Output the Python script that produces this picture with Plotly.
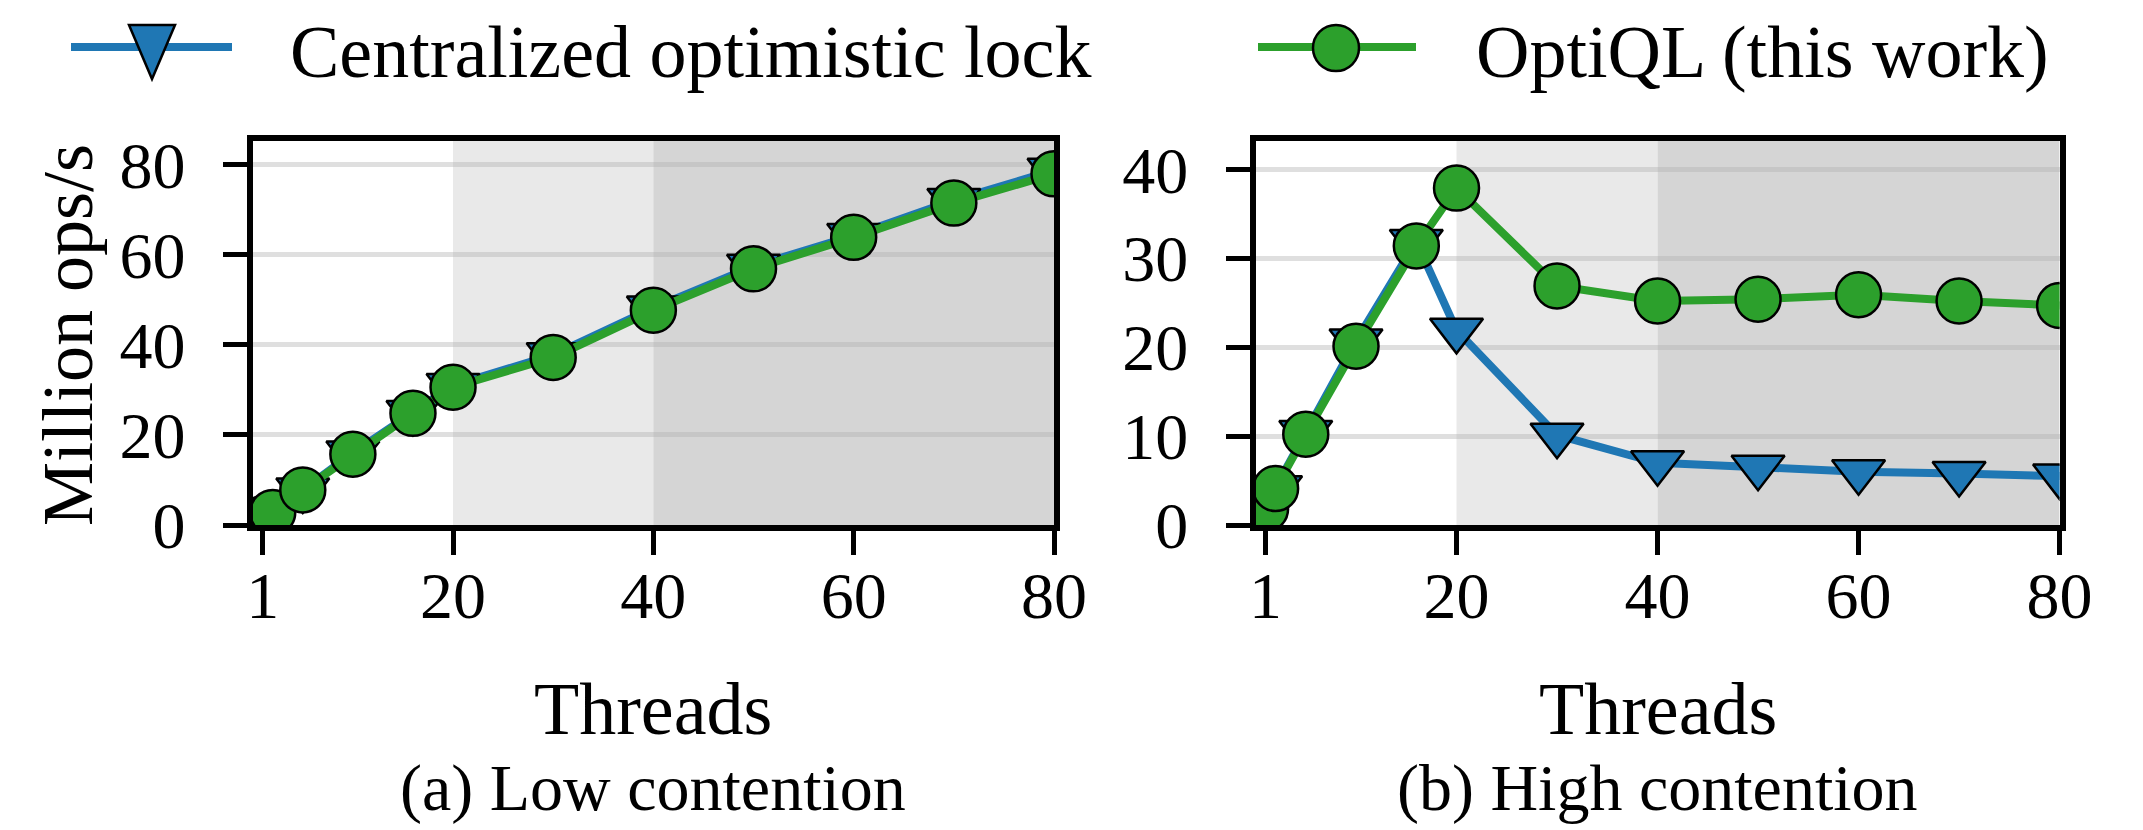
import plotly.graph_objects as go

# ---------------- data ----------------
threads = [1, 2, 5, 10, 16, 20, 30, 40, 50, 60, 70, 80]
low_centralized = [1.5, 3.0, 7.8, 16.0, 25.0, 31.0, 37.8, 48.2, 57.5, 64.3, 72.1, 78.8]
low_optiql = [1.4, 2.8, 7.8, 15.7, 24.8, 30.6, 37.2, 47.7, 56.9, 63.9, 71.5, 78.0]
high_centralized = [1.8, 4.2, 10.4, 20.7, 31.9, 21.9, 10.1, 7.0, 6.5, 6.0, 5.8, 5.5]
high_optiql = [1.8, 4.1, 10.2, 20.1, 31.4, 37.9, 26.9, 25.2, 25.4, 25.9, 25.2, 24.7]

x_tickvals = [1, 20, 40, 60, 80]
low_yticks = [0, 20, 40, 60, 80]
high_yticks = [0, 10, 20, 30, 40]
series_names = ["Centralized optimistic lock", "OptiQL (this work)"]
captions = ["(a) Low contention", "(b) High contention"]
x_title = "Threads"
y_title = "Million ops/s"
light_band = (20, 40)
dark_band = (40, 80)

# ---------------- style ----------------
W, H = 2143, 830
FONT = "Liberation Serif"
FS = 66
FS_BIG = 74
BLUE = "#1f77b4"
GREEN = "#2ca02c"


def px(v):
    return v / W


def py(v):
    return 1 - v / H


fig = go.Figure()

panels = [
    ("x", "y", low_centralized, low_optiql),
    ("x2", "y2", high_centralized, high_optiql),
]
for xa, ya, cen, opt in panels:
    fig.add_trace(go.Scatter(
        x=threads, y=cen, xaxis=xa, yaxis=ya, mode="lines+markers",
        name=series_names[0], showlegend=False,
        line=dict(color=BLUE, width=8),
        marker=dict(symbol="triangle-down", size=46, color=BLUE,
                    line=dict(color="black", width=2.5)),
    ))
    fig.add_trace(go.Scatter(
        x=threads, y=opt, xaxis=xa, yaxis=ya, mode="lines+markers",
        name=series_names[1], showlegend=False,
        line=dict(color=GREEN, width=8),
        marker=dict(symbol="circle", size=45, color=GREEN,
                    line=dict(color="black", width=2.5)),
    ))

y_dom = [py(525), py(141)]
axis_common = dict(
    showline=True, linecolor="black", linewidth=6, mirror=True,
    ticks="outside", ticklen=24, tickwidth=5, tickcolor="black",
    tickfont=dict(family=FONT, size=FS, color="black"),
    zeroline=False, automargin=False,
)
grid = dict(showgrid=True, gridcolor="rgba(176,176,176,0.4)", gridwidth=5)
fig.update_layout(
    width=W, height=H,
    margin=dict(l=0, r=0, t=0, b=0, pad=0, autoexpand=False),
    paper_bgcolor="white", plot_bgcolor="white",
    showlegend=False,
    xaxis=dict(domain=[px(252.7), px(1054)], range=[0, 80], anchor="y",
               tickvals=x_tickvals, showgrid=False, ticklabelstandoff=-16, **axis_common),
    yaxis=dict(domain=y_dom, range=[0, 85.3], anchor="x", tickvals=low_yticks,
               ticklabelstandoff=24, **grid, **axis_common),
    xaxis2=dict(domain=[px(1255.5), px(2059.6)], range=[0, 80], anchor="y2",
                tickvals=x_tickvals, showgrid=False, ticklabelstandoff=-16, **axis_common),
    yaxis2=dict(domain=y_dom, range=[0, 43.2], anchor="x2", tickvals=high_yticks,
                ticklabelstandoff=24, **grid, **axis_common),
)

shapes = []
for xr, yr in [("x", "y domain"), ("x2", "y2 domain")]:
    shapes.append(dict(type="rect", xref=xr, yref=yr, x0=light_band[0], x1=light_band[1],
                       y0=0, y1=1, fillcolor="#e9e9e9", line=dict(width=0), layer="below"))
    shapes.append(dict(type="rect", xref=xr, yref=yr, x0=dark_band[0], x1=dark_band[1],
                       y0=0, y1=1, fillcolor="#d5d5d5", line=dict(width=0), layer="below"))

# custom legend glyphs (paper coordinates)
shapes.append(dict(type="line", xref="paper", yref="paper", x0=px(71), x1=px(232),
                   y0=py(47), y1=py(47), line=dict(color=BLUE, width=8)))
shapes.append(dict(type="path", xref="paper", yref="paper",
                   path=f"M {px(129)} {py(25)} L {px(175)} {py(25)} L {px(152)} {py(79)} Z",
                   fillcolor=BLUE, line=dict(color="black", width=2.5)))
shapes.append(dict(type="line", xref="paper", yref="paper", x0=px(1258), x1=px(1416),
                   y0=py(47), y1=py(47), line=dict(color=GREEN, width=8)))
shapes.append(dict(type="circle", xref="paper", yref="paper",
                   x0=px(1313), x1=px(1359), y0=py(71), y1=py(25),
                   fillcolor=GREEN, line=dict(color="black", width=2.5)))
fig.update_layout(shapes=shapes)

tfont = dict(family=FONT, size=FS, color="black")
bfont = dict(family=FONT, size=FS_BIG, color="black")
ann = [
    dict(text=series_names[0], x=px(288), y=py(52), xanchor="left", yanchor="middle", font=bfont),
    dict(text=series_names[1], x=px(1474), y=py(52), xanchor="left", yanchor="middle", font=bfont),
    dict(text=y_title, x=px(68), y=py(335), textangle=-90, xanchor="center", yanchor="middle",
         font=dict(family=FONT, size=72, color="black")),
]
for cx, cap in [((252.7 + 1054) / 2, captions[0]), ((1255.5 + 2059.6) / 2, captions[1])]:
    ann.append(dict(text=x_title, x=px(cx), y=py(709), xanchor="center", yanchor="middle", font=bfont))
    ann.append(dict(text=cap, x=px(cx), y=py(788), xanchor="center", yanchor="middle", font=tfont))
for a in ann:
    a.update(xref="paper", yref="paper", showarrow=False)
fig.update_layout(annotations=ann)

fig.write_html("out.html", config={"displayModeBar": False},
               post_script="document.body.style.margin='0';document.body.style.overflow='hidden';")
